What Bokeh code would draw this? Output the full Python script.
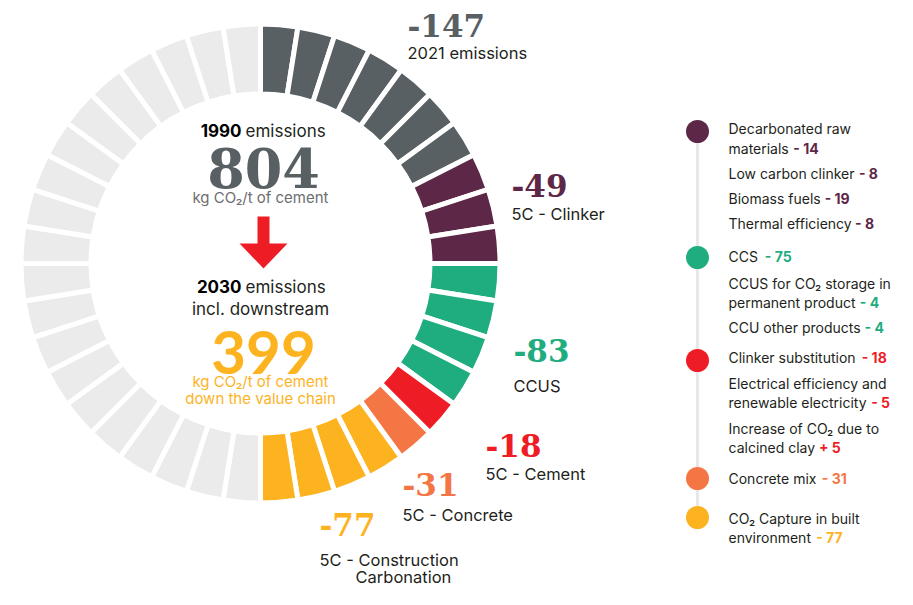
from bokeh.plotting import figure
from bokeh.models import Range1d
from bokeh.core.properties import value
from bokeh.embed import file_html
from bokeh.resources import INLINE
import math

# ---------------- data ----------------
baseline_1990 = 804
target_2030 = 399
categories = ["2021 emissions", "5C - Clinker", "CCUS", "5C - Cement", "5C - Concrete", "5C - Construction"]
category_extra = ["", "", "", "", "", "Carbonation"]
reductions = [-147, -49, -83, -18, -31, -77]
segment_counts = [7, 3, 4, 1, 1, 4]      # ring segments per category (counted)
total_segments = 40
cat_colors = ["#586064", "#5d2747", "#1fad7f", "#ee1d25", "#f47645", "#fdb31f"]
rest_color = "#ebebeb"

# legend (right side)
legend_groups = ["5C - Clinker", "CCUS", "5C - Cement", "5C - Concrete", "5C - Construction"]
legend_group_colors = ["#5d2747", "#1fad7f", "#ee1d25", "#f47645", "#fdb31f"]
legend_lines = [
    "Decarbonated raw", "materials", "Low carbon clinker", "Biomass fuels", "Thermal efficiency",
    "CCS", "CCUS for CO\u2082 storage in", "permanent product", "CCU other products",
    "Clinker substitution", "Electrical efficiency and", "renewable electricity",
    "Increase of CO\u2082 due to", "calcined clay", "Concrete mix",
    "CO\u2082 Capture in built", "environment",
]
legend_values = ["", "- 14", "- 8", "- 19", "- 8",
                 "- 75", "", "- 4", "- 4",
                 "- 18", "", "- 5", "", "+ 5", "- 31",
                 "", "- 77"]
legend_line_group = [0, 0, 0, 0, 0, 1, 1, 1, 1, 2, 2, 2, 2, 2, 3, 4, 4]

# ---------------- layout ----------------
W, H = 897, 589
def fy(Y):
    return 605 - Y

p = figure(width=W, height=H, x_range=Range1d(0, W), y_range=Range1d(605 - H, 605),
           output_backend="svg", toolbar_location=None, min_border=0,
           x_axis_location=None, y_axis_location=None)
p.grid.visible = False
p.outline_line_color = None
p.background_fill_color = "white"

# ring
cx, cy = 260, fy(263)
step = 2 * math.pi / total_segments
seg_colors = []
for c, n in zip(cat_colors, segment_counts):
    seg_colors += [c] * n
seg_colors += [rest_color] * (total_segments - len(seg_colors))
starts = [math.pi / 2 - (i + 1) * step for i in range(total_segments)]
ends = [math.pi / 2 - i * step for i in range(total_segments)]
p.annular_wedge(x=[cx] * total_segments, y=[cy] * total_segments,
                inner_radius=169.5, outer_radius=239.5,
                start_angle=starts, end_angle=ends,
                fill_color=seg_colors, line_color="white", line_width=5)

SLAB = value("DejaVu Serif")
SANS = value("Inter")
DARK = "#231f20"

# category labels around the ring
num_pos = [(407, 25), (511, 185), (513, 350), (485, 445), (402, 484), (319, 524)]
lab_pos = [(407, 52), (511, 213), (513, 385), (485, 473), (402, 514), (319, 559)]
extra_pos = [None, None, None, None, None, (355, 576)]
p.text(x=[a for a, b in num_pos], y=[fy(b) for a, b in num_pos],
       text=[str(v) for v in reductions], text_color=cat_colors,
       text_font=SLAB, text_font_style="bold", text_font_size="31px",
       text_baseline="middle", text_align="left")
p.text(x=[a for a, b in lab_pos], y=[fy(b) for a, b in lab_pos],
       text=categories, text_color=DARK, text_font=SANS, text_font_size="16.5px",
       text_baseline="middle", text_align="left")
ex = [(pos, t) for pos, t in zip(extra_pos, category_extra) if t]
p.text(x=[pos[0] for pos, t in ex], y=[fy(pos[1]) for pos, t in ex], text=[t for pos, t in ex],
       text_color=DARK, text_font=SANS, text_font_size="16.5px",
       text_baseline="middle", text_align="left")

# centre texts
p.text(x=[241], y=[fy(130)], text=["1990"], text_font=SANS, text_font_style="bold",
       text_font_size="17px", text_color="black", text_align="right", text_baseline="middle")
p.text(x=[245], y=[fy(130)], text=["emissions"], text_font=SANS,
       text_font_size="17px", text_color=DARK, text_align="left", text_baseline="middle")
p.text(x=[263], y=[fy(167)], text=[str(baseline_1990)], text_font=SLAB, text_font_style="bold",
       text_font_size="54px", text_color="#586064", text_align="center", text_baseline="middle")
p.text(x=[260], y=[fy(197)], text=["kg CO\u2082/t of cement"], text_font=SANS,
       text_font_size="15px", text_color="#6d6e71", text_align="center", text_baseline="middle")

# arrow
ax, a_top, a_join, a_tip, shaft_w, head_w = 263, 216, 243, 268, 12, 48
arrow_x = [ax - shaft_w / 2, ax + shaft_w / 2, ax + shaft_w / 2, ax + head_w / 2, ax,
           ax - head_w / 2, ax - shaft_w / 2]
arrow_y = [fy(a_top), fy(a_top), fy(a_join), fy(a_join), fy(a_tip), fy(a_join), fy(a_join)]
p.patch(arrow_x, arrow_y, fill_color="#ee1d25", line_color=None)

p.text(x=[241], y=[fy(286)], text=["2030"], text_font=SANS, text_font_style="bold",
       text_font_size="17px", text_color="black", text_align="right", text_baseline="middle")
p.text(x=[245], y=[fy(286)], text=["emissions"], text_font=SANS,
       text_font_size="17px", text_color=DARK, text_align="left", text_baseline="middle")
p.text(x=[260], y=[fy(308)], text=["incl. downstream"], text_font=SANS,
       text_font_size="17px", text_color=DARK, text_align="center", text_baseline="middle")
p.text(x=[263], y=[fy(352)], text=[str(target_2030)], text_font=value("Lato"), text_font_style="bold",
       text_font_size="60px", text_color="#fdb31f", text_align="center", text_baseline="middle")
p.text(x=[260], y=[fy(381)], text=["kg CO\u2082/t of cement"], text_font=SANS,
       text_font_size="15px", text_color="#fdb31f", text_align="center", text_baseline="middle")
p.text(x=[260], y=[fy(398)], text=["down the value chain"], text_font=SANS,
       text_font_size="15px", text_color="#fdb31f", text_align="center", text_baseline="middle")

# legend
LX = 697            # dot / line x
TX = 728            # text x
k = 0.95            # text width ratio (this font / reference)
dot_y = [131, 257, 360, 478, 517]
p.line(x=[LX, LX], y=[fy(dot_y[0]), fy(dot_y[-1])], line_color="#e8e8e8", line_width=3)
p.scatter(x=[LX] * len(dot_y), y=[fy(v) for v in dot_y], size=23,
          fill_color=legend_group_colors, line_color=None)
line_y = [128, 148, 173, 198, 223, 256, 283, 302, 327, 357, 383, 402, 428, 447, 478, 518, 537]
suffix_ref_x = [0, 805, 874, 838, 870, 775, 0, 875, 880, 877, 0, 887, 0, 832, 835, 0, 829]
p.text(x=[TX] * len(legend_lines), y=[fy(v) for v in line_y], text=legend_lines,
       text_font=SANS, text_font_size="14px", text_color=DARK,
       text_align="left", text_baseline="middle")
sx, sy, st, sc = [], [], [], []
for i, s in enumerate(legend_values):
    if s:
        sx.append(TX + (suffix_ref_x[i] - 742) * k + 5); sy.append(fy(line_y[i])); st.append(s)
        sc.append(legend_group_colors[legend_line_group[i]])
p.text(x=sx, y=sy, text=st, text_font=SANS, text_font_style="bold", text_font_size="14px",
       text_color=sc, text_align="left", text_baseline="middle")

open("out.html", "w").write(file_html(p, INLINE))
